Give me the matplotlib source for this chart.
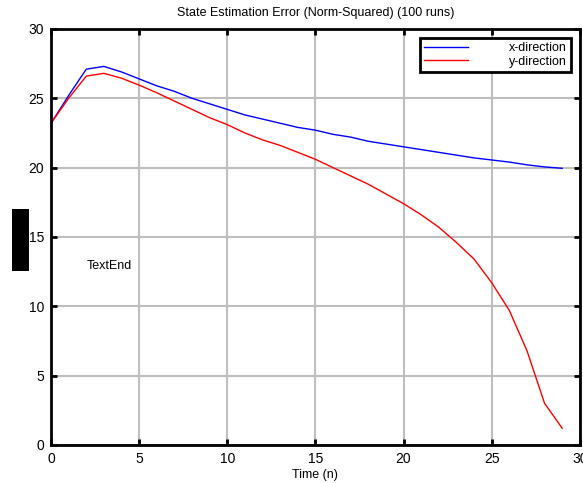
import matplotlib

matplotlib.use("Agg")
import matplotlib.pyplot as plt
from matplotlib.patches import Rectangle

plt.rcParams["font.family"] = ["Liberation Sans", "DejaVu Sans"]

time = list(range(30))
err_x = [23.2, 25.2, 27.1, 27.3, 26.9, 26.4, 25.9, 25.5, 25.0, 24.6,
         24.2, 23.8, 23.5, 23.2, 22.9, 22.7, 22.4, 22.2, 21.9, 21.7,
         21.5, 21.3, 21.1, 20.9, 20.7, 20.55, 20.4, 20.2, 20.05, 19.95]
err_y = [23.2, 25.0, 26.6, 26.8, 26.45, 25.95, 25.4, 24.8, 24.2, 23.6,
         23.1, 22.5, 22.0, 21.6, 21.1, 20.6, 20.0, 19.4, 18.8, 18.1,
         17.4, 16.6, 15.7, 14.6, 13.4, 11.7, 9.7, 6.8, 3.0, 1.2]
xticks = [0, 5, 10, 15, 20, 25, 30]
yticks = [0, 5, 10, 15, 20, 25, 30]

fig = plt.figure(figsize=(5.83, 4.83), dpi=100)
ax = fig.add_axes([0.0875, 0.079, 0.907, 0.861])

ax.plot(time, err_x, color="#0000ff", linewidth=1.0, label="x-direction")
ax.plot(time, err_y, color="#ff0000", linewidth=1.0, label="y-direction")

ax.set_xlim(0, 30)
ax.set_ylim(0, 30)
ax.set_xticks(xticks)
ax.set_yticks(yticks)
ax.grid(True, color="#bebebe", linewidth=1.5)
ax.set_axisbelow(True)
for sp in ax.spines.values():
    sp.set_linewidth(2)
ax.tick_params(direction="in", length=4, width=2, top=True, right=True,
               labelsize=10, pad=5)

ax.set_title("State Estimation Error (Norm-Squared) (100 runs)", fontsize=9, pad=9)
ax.set_xlabel("Time (n)", fontsize=9, labelpad=2)
ax.text(2, 12.9, "TextEnd", fontsize=9, va="center", ha="left")

leg = ax.legend(loc="upper right", fontsize=9, handlelength=3.5, handletextpad=3.3,
                fancybox=False, framealpha=1, borderpad=0.3, labelspacing=0.15,
                borderaxespad=0, bbox_to_anchor=(0.983, 0.978))
leg.get_frame().set_edgecolor("black")
leg.get_frame().set_linewidth(2)

fig.patches.append(Rectangle((0.0206, 0.439), 0.029, 0.128, transform=fig.transFigure,
                             facecolor="black", edgecolor="none"))

fig.savefig("out.png", dpi=100)
